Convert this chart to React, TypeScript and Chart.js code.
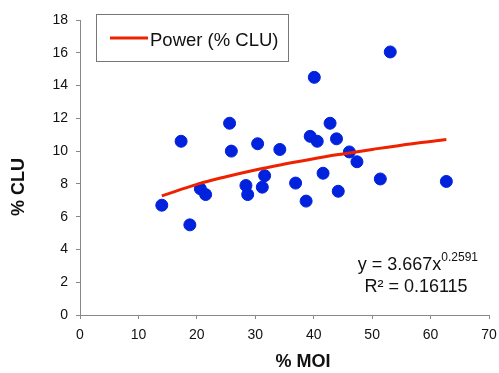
import React, { useEffect, useRef } from "react";
import { Chart, registerables } from "chart.js";
Chart.register(...registerables);

const moi = [17.3, 25.6, 25.9, 30.4, 34.2, 40.1, 39.4, 40.6, 42.8, 43.9, 46.1, 47.4, 53.1, 14.0, 18.8, 20.6, 21.5, 28.4, 28.7, 31.2, 31.6, 36.9, 38.7, 41.6, 44.2, 51.4, 62.7];
const clu = [10.6, 11.7, 10.0, 10.45, 10.1, 14.5, 10.9, 10.6, 11.7, 10.75, 9.95, 9.35, 16.05, 6.7, 5.5, 7.7, 7.35, 7.9, 7.35, 7.8, 8.5, 8.05, 6.95, 8.65, 7.55, 8.3, 8.15];
const fitX = [14, 20, 25, 30, 35, 40, 45, 50, 55, 60, 62.7];
const fitY = [7.27, 7.97, 8.44, 8.85, 9.21, 9.54, 9.83, 10.1, 10.36, 10.59, 10.71];
const legendLabel = "Power (% CLU)";
const xTitle = "% MOI";
const yTitle = "% CLU";
const eqMain = "y = 3.667x";
const eqExp = "0.2591";
const r2Text = "R² = 0.16115";

const FONT = "'Liberation Sans', Arial, sans-serif";

const overlay = {
  id: "overlay",
  afterDraw(chart: any) {
    const ctx = chart.ctx;
    ctx.save();
    // legend box
    ctx.fillStyle = "#fff";
    ctx.fillRect(96, 14, 193, 48);
    ctx.strokeStyle = "#777";
    ctx.lineWidth = 1;
    ctx.strokeRect(96.5, 14.5, 192, 47);
    ctx.strokeStyle = "#ee2200";
    ctx.lineWidth = 3;
    ctx.beginPath();
    ctx.moveTo(110, 38);
    ctx.lineTo(148, 38);
    ctx.stroke();
    ctx.fillStyle = "#111";
    ctx.font = `18.5px ${FONT}`;
    ctx.textAlign = "left";
    ctx.textBaseline = "middle";
    ctx.fillText(legendLabel, 150, 41);
    // titles
    ctx.font = `bold 18px ${FONT}`;
    ctx.textAlign = "center";
    ctx.fillText(xTitle, 303, 362);
    ctx.translate(19, 187);
    ctx.rotate(-Math.PI / 2);
    ctx.fillText(yTitle, 0, 0);
    ctx.restore();
    // equation
    ctx.save();
    ctx.fillStyle = "#111";
    ctx.textBaseline = "alphabetic";
    ctx.textAlign = "left";
    ctx.font = `18px ${FONT}`;
    const w = ctx.measureText(eqMain).width;
    ctx.font = `12px ${FONT}`;
    const we = ctx.measureText(eqExp).width;
    const x0 = 478 - w - we;
    ctx.font = `18px ${FONT}`;
    ctx.fillText(eqMain, x0, 270);
    ctx.font = `12px ${FONT}`;
    ctx.fillText(eqExp, x0 + w, 261);
    ctx.font = `18px ${FONT}`;
    ctx.textAlign = "center";
    ctx.fillText(r2Text, 416, 292);
    ctx.restore();
  },
};

export default function App() {
  const ref = useRef<HTMLCanvasElement>(null);
  useEffect(() => {
    document.body.style.margin = "0";
    const chart = new Chart(ref.current!, {
      type: "scatter",
      data: {
        datasets: [
          {
            label: "data",
            data: moi.map((x, i) => ({ x, y: clu[i] })),
            backgroundColor: "#0022dd",
            borderColor: "#0022dd",
            pointRadius: 6,
            order: 1,
          },
          {
            label: legendLabel,
            type: "line",
            data: fitX.map((x, i) => ({ x, y: fitY[i] })),
            borderColor: "#ee2200",
            borderWidth: 3,
            pointRadius: 0,
            tension: 0.4,
            fill: false,
            order: 0,
          } as any,
        ],
      },
      options: {
        animation: false,
        responsive: false,
        layout: { padding: { top: 20, right: 10, left: 0, bottom: 0 } },
        plugins: { legend: { display: false }, tooltip: { enabled: false } },
        scales: {
          x: {
            type: "linear",
            min: 0,
            max: 70,
            ticks: { stepSize: 10, color: "#111", font: { size: 14, family: FONT }, padding: 8 },
            grid: { display: true, drawOnChartArea: false, drawTicks: true, tickLength: 4, color: "#888" } as any,
            border: { color: "#888", width: 1 },
            afterFit(scale: any) {
              scale.height = 58;
              scale.paddingRight = 0;
              scale.paddingLeft = 0;
            },
          },
          y: {
            min: 0,
            max: 18,
            ticks: { stepSize: 2, color: "#111", font: { size: 14, family: FONT }, padding: 8 },
            grid: { display: true, drawOnChartArea: false, drawTicks: true, tickLength: 4, color: "#888" } as any,
            border: { color: "#888", width: 1 },
            afterFit(scale: any) {
              scale.width = 80;
              scale.paddingTop = 0;
              scale.paddingBottom = 0;
            },
          },
        },
      },
      plugins: [overlay],
    });
    return () => chart.destroy();
  }, []);
  return (
    <div style={{ position: "absolute", left: 0, top: 0, width: 499, height: 373 }}>
      <canvas ref={ref} width={499} height={373} />
    </div>
  );
}
